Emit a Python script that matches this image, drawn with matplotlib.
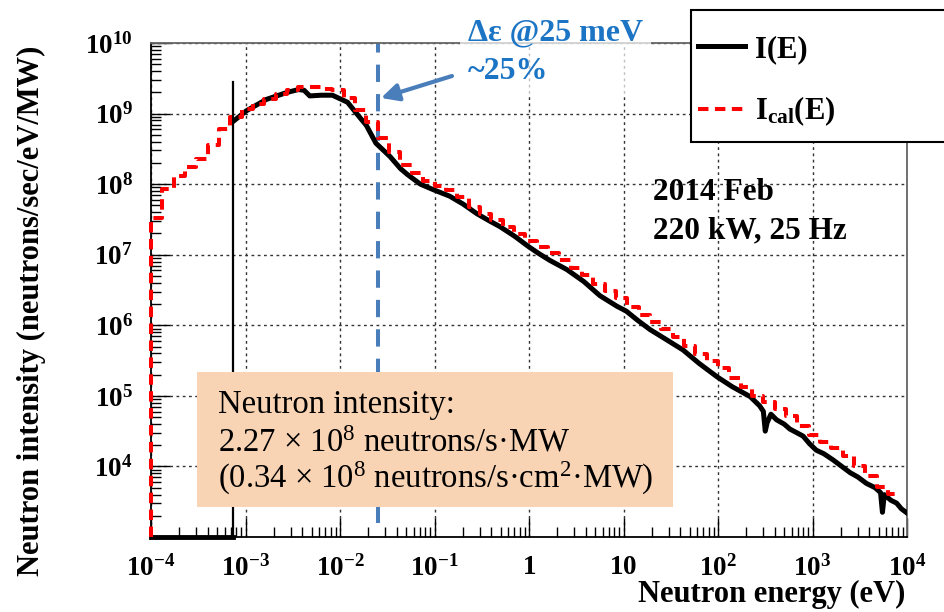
import matplotlib
matplotlib.use("Agg")
import matplotlib.pyplot as plt
import numpy as np
from matplotlib.patches import Rectangle
from matplotlib.ticker import LogLocator, NullFormatter

plt.rcParams["font.family"] = ["Liberation Serif", "DejaVu Serif"]
plt.rcParams["mathtext.fontset"] = "custom"
plt.rcParams["mathtext.rm"] = "Liberation Serif"
plt.rcParams["mathtext.it"] = "Liberation Serif:italic"
plt.rcParams["mathtext.bf"] = "Liberation Serif:bold"

# measured spectrum I(E), log10 of energy (eV) and intensity
meas_log_e = [-3.13, -2.99, -2.78, -2.56, -2.44, -2.38, -2.32, -2.20, -2.08, -1.92,
              -1.83, -1.72, -1.62, -1.47, -1.36, -1.29, -1.15, -1.01, -0.84, -0.70,
              -0.55, -0.42, -0.31, -0.15, -0.01, 0.10, 0.22, 0.40, 0.58, 0.75,
              0.93, 1.03, 1.15, 1.28, 1.45, 1.63, 1.80, 1.99, 2.15, 2.34,
              2.44, 2.48, 2.50, 2.52, 2.56, 2.62, 2.70, 2.76, 2.83, 2.90,
              2.97, 3.04, 3.12, 3.22, 3.31, 3.40, 3.48, 3.57, 3.66, 3.72,
              3.74, 3.76, 3.83, 3.89, 3.94, 4.00]
meas_log_i = [8.89, 9.04, 9.20, 9.30, 9.34, 9.33, 9.25, 9.26, 9.26, 9.16,
              9.01, 8.83, 8.58, 8.39, 8.22, 8.14, 8.00, 7.92, 7.83, 7.72,
              7.58, 7.48, 7.40, 7.26, 7.12, 7.02, 6.92, 6.79, 6.62, 6.42,
              6.27, 6.20, 6.07, 5.94, 5.80, 5.65, 5.46, 5.27, 5.13, 4.99,
              4.86, 4.78, 4.50, 4.62, 4.74, 4.66, 4.60, 4.53, 4.48, 4.43,
              4.32, 4.23, 4.18, 4.09, 4.00, 3.91, 3.85, 3.76, 3.70, 3.63,
              3.35, 3.60, 3.52, 3.48, 3.40, 3.34]
cutoff_e = 7.4e-4      # detector cutoff, eV
cutoff_top = 2.8e9     # height of the edge bin

# calculated spectrum I_cal(E), histogram in log-energy bins
cal_edges_log = np.linspace(-4.0, 3.92, 67)
cal_log_i = [7.52, 7.93, 8.12, 8.25, 8.35, 8.55, 8.78, 8.95, 9.06, 9.14,
             9.20, 9.28, 9.34, 9.38, 9.38, 9.35, 9.34, 9.22, 9.05, 8.88,
             8.66, 8.45, 8.27, 8.16, 8.04, 7.97, 7.91, 7.82, 7.68, 7.57,
             7.49, 7.39, 7.30, 7.20, 7.11, 7.03, 6.92, 6.81, 6.71, 6.59,
             6.49, 6.38, 6.26, 6.15, 6.04, 5.95, 5.83, 5.70, 5.59, 5.50,
             5.40, 5.26, 5.12, 5.00, 4.92, 4.82, 4.71, 4.57, 4.45, 4.35,
             4.26, 4.15, 4.00, 3.86, 3.71, 3.61]

mark_e = 0.025         # 25 meV
mark_low = 1.6e3

x_ticks = [1e-4, 1e-3, 1e-2, 1e-1, 1, 10, 1e2, 1e3, 1e4]
x_tick_labels = [r"$\mathbf{10^{-4}}$", r"$\mathbf{10^{-3}}$", r"$\mathbf{10^{-2}}$",
                 r"$\mathbf{10^{-1}}$", r"$\mathbf{1}$", r"$\mathbf{10}$",
                 r"$\mathbf{10^{2}}$", r"$\mathbf{10^{3}}$", r"$\mathbf{10^{4}}$"]
y_ticks = [1e4, 1e5, 1e6, 1e7, 1e8, 1e9, 1e10]
y_tick_labels = [r"$\mathbf{10^{4}}$", r"$\mathbf{10^{5}}$", r"$\mathbf{10^{6}}$",
                 r"$\mathbf{10^{7}}$", r"$\mathbf{10^{8}}$", r"$\mathbf{10^{9}}$",
                 r"$\mathbf{10^{10}}$"]

W, H = 944, 612
fig = plt.figure(figsize=(W / 100, H / 100), dpi=100)
ax = fig.add_axes([151 / W, 1 - 537 / H, 756 / W, 494 / H])
ax.set_xscale("log")
ax.set_yscale("log")
ymin, ymax = 1e3, 1e10
ax.set_xlim(1e-4, 1e4)
ax.set_ylim(ymin, ymax)

blue = "#4A7EBB"

# measured: zero below the cutoff, then the spectrum
ax.plot([1e-4, cutoff_e], [ymin, ymin], color="black", lw=3.5, clip_on=False, zorder=3)
ax.plot([cutoff_e, cutoff_e], [ymin, cutoff_top], color="black", lw=1.6, zorder=3)
meas_line, = ax.plot(10 ** np.array(meas_log_e), 10 ** np.array(meas_log_i),
                     color="black", lw=3.6, solid_joinstyle="round", zorder=3,
                     label="I(E)")

# calculated: step histogram rising from the floor at the first edge
edges = 10 ** cal_edges_log
vals = 10 ** np.array(cal_log_i)
xs = np.concatenate([[edges[0]], np.repeat(edges, 2)[1:-1]])
ys = np.concatenate([[ymin], np.repeat(vals, 2)])
cal_line, = ax.plot(xs, ys, color="red", lw=2.9, dashes=(2.6, 1.6),
                    clip_on=False, zorder=4, label=r"I$_{\mathbf{cal}}$(E)")

# 25 meV marker
ax.plot([mark_e, mark_e], [mark_low, ymax], color=blue, lw=2.9, dashes=(4.3, 3.0),
        zorder=2)

ax.set_xticks(x_ticks, x_tick_labels)
ax.set_yticks(y_ticks, y_tick_labels)
ax.xaxis.set_minor_locator(LogLocator(base=10, subs=np.arange(2, 10), numticks=20))
ax.yaxis.set_minor_locator(LogLocator(base=10, subs=np.arange(2, 10), numticks=20))
ax.xaxis.set_minor_formatter(NullFormatter())
ax.yaxis.set_minor_formatter(NullFormatter())
ax.tick_params(which="both", direction="in", top=False, right=False, width=1.0)
ax.tick_params(which="major", length=14)
ax.tick_params(which="minor", length=7)
ax.tick_params(axis="x", which="major", labelsize=19.5, pad=13)
ax.tick_params(axis="y", which="major", labelsize=19.5, pad=13)

ax.grid(True, which="major", color="#333333", lw=1.0, ls=(0, (2, 2.5)))
for side in ("top", "right"):
    ax.spines[side].set_color("#666666")
for side in ax.spines:
    ax.spines[side].set_linewidth(1.3)

# intensity summary box
ax.add_patch(Rectangle((46 / 756, 30 / 494), 476 / 756, 135 / 494,
                       transform=ax.transAxes, facecolor="#F9D4B4",
                       edgecolor="none", zorder=6))
box_lines = ["Neutron intensity:",
             r"2.27 × 10$^{\mathrm{8}}$ neutrons/s·MW",
             r"(0.34 × 10$^{\mathrm{8}}$ neutrons/s·cm$^{\mathrm{2}}$·MW)"]
for txt, yb in zip(box_lines, [413, 451, 488]):
    ax.text(67 / 756, (537 - yb) / 494, txt, transform=ax.transAxes,
            fontsize=23.5, va="baseline", ha="left", zorder=7)

for txt, yb in zip(["2014 Feb", "220 kW, 25 Hz"], [200, 238]):
    ax.text(502 / 756, (537 - yb) / 494, txt, transform=ax.transAxes,
            fontsize=22.5, fontweight="bold", va="baseline", ha="left")

# annotation for the energy resolution
fig.text(468 / W, 1 - 52 / H, "Δε @25 meV\n~25%", color="#1C74C4",
         fontsize=23, fontweight="bold", va="center", ha="left",
         linespacing=1.42,
         bbox=dict(facecolor="white", alpha=0.7, edgecolor="none", pad=6))
ax.annotate("", xy=(381 / W, 1 - 98 / H), xytext=(452 / W, 1 - 76 / H),
            xycoords="figure fraction", textcoords="figure fraction",
            arrowprops=dict(arrowstyle="-|>", color=blue, lw=3,
                            mutation_scale=26, shrinkA=0, shrinkB=0))

# legend in a white box running off the right edge
fig.add_artist(Rectangle((691 / W, 1 - 142 / H), 0.4, 132 / H,
                         transform=fig.transFigure, facecolor="white",
                         edgecolor="black", lw=1.5, zorder=4))
fig.legend(handles=[meas_line, cal_line], loc="upper left",
           bbox_to_anchor=(698 / W, 1 - 35 / H), bbox_transform=fig.transFigure,
           frameon=False, prop=dict(weight="bold", size=22),
           handlelength=1.55, handletextpad=0.3, labelspacing=1.0,
           borderaxespad=0, borderpad=0)

fig.text(31 / W, 1 - 311 / H, "Neutron intensity (neutrons/sec/eV/MW)",
         rotation=90, fontsize=22, fontweight="bold", va="center", ha="center")
fig.text(905 / W, 1 - 602 / H, "Neutron energy (eV)", fontsize=22,
         fontweight="bold", va="baseline", ha="right")

fig.savefig("out.png", dpi=100)
